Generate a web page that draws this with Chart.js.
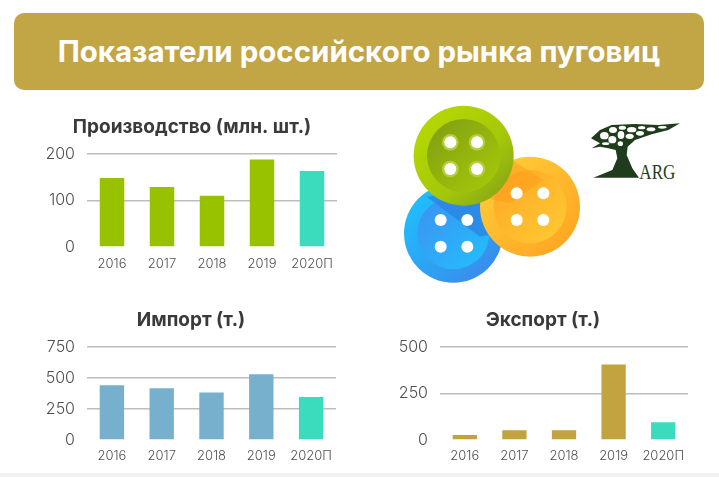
<!DOCTYPE html>
<html>
<head>
<meta charset="utf-8">
<script src="https://cdn.jsdelivr.net/npm/chart.js@4"></script>
<style>
  html, body { margin: 0; padding: 0; background: #fff; overflow: hidden; }
  body { position: relative; width: 719px; height: 477px; font-family: Inter, sans-serif; }
  #banner { position: absolute; left: 14px; top: 13px; width: 690px; height: 77px; background: #c2a544; border-radius: 10px;
    color: #fff; font-weight: 700; font-size: 29.5px; line-height: 77px; text-align: center; white-space: nowrap; }
  #footer { position: absolute; left: 0; top: 473px; width: 719px; height: 4px; background: #f1f1f1; }
  #art { position: absolute; left: 380px; top: 90px; }
  .box { position: absolute; }
</style>
</head>
<body>
<div id="banner">Показатели российского рынка пуговиц</div>

<svg id="art" width="320" height="200" viewBox="0 0 960 600">
  <defs>
    <linearGradient id="gGreen" x1="0" y1="0" x2="1" y2="1">
      <stop offset="0" stop-color="#b9dc00"/><stop offset=".6" stop-color="#a4c70a"/><stop offset="1" stop-color="#7e9c18"/>
    </linearGradient>
    <linearGradient id="gGreenIn" x1="0" y1="0" x2="1" y2="1">
      <stop offset="0" stop-color="#7f9c14"/><stop offset="1" stop-color="#a8cb08"/>
    </linearGradient>
    <linearGradient id="gOrange" x1="0" y1="0" x2="1" y2="1">
      <stop offset="0" stop-color="#ffd23c"/><stop offset="1" stop-color="#ffa01f"/>
    </linearGradient>
    <linearGradient id="gOrangeIn" x1="0" y1="0" x2="1" y2="1">
      <stop offset="0" stop-color="#ffa625"/><stop offset="1" stop-color="#ffcb33"/>
    </linearGradient>
    <linearGradient id="gBlue" x1="0" y1="0" x2="1" y2="1">
      <stop offset="0" stop-color="#1cc6ff"/><stop offset="1" stop-color="#3d84e8"/>
    </linearGradient>
    <linearGradient id="gBlueIn" x1="0" y1="0" x2="1" y2="1">
      <stop offset="0" stop-color="#3d90f2"/><stop offset="1" stop-color="#22c0fc"/>
    </linearGradient>
    <clipPath id="clipBlue"><circle cx="220" cy="430" r="148"/></clipPath>
    <clipPath id="clipOrange"><circle cx="450" cy="350" r="150"/></clipPath>
  </defs>

  <circle cx="220" cy="430" r="148" fill="url(#gBlue)"/>
  <circle cx="220" cy="430" r="108" fill="url(#gBlueIn)"/>
  <path d="M140 320 L300 300 L400 420 L300 440 Z" fill="#2b82e2" opacity=".75" clip-path="url(#clipBlue)"/>
  <g fill="#fff">
    <circle cx="182" cy="390" r="18"/><circle cx="262" cy="390" r="18"/>
    <circle cx="182" cy="470" r="18"/><circle cx="262" cy="470" r="18"/>
  </g>

  <circle cx="450" cy="350" r="150" fill="url(#gOrange)"/>
  <circle cx="450" cy="350" r="110" fill="url(#gOrangeIn)"/>
  <path d="M380 200 L300 320 L390 340 L490 270 Z" fill="#ff9d1c" opacity=".55" clip-path="url(#clipOrange)"/>
  <g fill="#fff">
    <circle cx="410" cy="310" r="18"/><circle cx="490" cy="310" r="18"/>
    <circle cx="410" cy="390" r="18"/><circle cx="490" cy="390" r="18"/>
  </g>

  <circle cx="251" cy="197" r="150" fill="url(#gGreen)"/>
  <circle cx="251" cy="197" r="110" fill="url(#gGreenIn)"/>
  <g fill="#b5cf3c">
    <circle cx="211" cy="157" r="25"/><circle cx="291" cy="157" r="25"/>
    <circle cx="211" cy="237" r="25"/><circle cx="291" cy="237" r="25"/>
  </g>
  <g fill="#fff">
    <circle cx="211" cy="157" r="18"/><circle cx="291" cy="157" r="18"/>
    <circle cx="211" cy="237" r="18"/><circle cx="291" cy="237" r="18"/>
  </g>

  <g transform="translate(615 75)">
    <path d="M18 70 L45 45 L80 30 L150 27 L220 30 L285 25 L250 45 L200 58 L150 75 L128 95 L125 120 L142 160 L162 188
             L25 188 L82 165 L97 130 L92 105 L70 100 L45 95 L20 100 L45 85 Z" fill="#1f3d1c"/>
    <g fill="#fff">
      <ellipse cx="58" cy="62" rx="13" ry="11"/><ellipse cx="84" cy="45" rx="12" ry="9"/>
      <ellipse cx="82" cy="74" rx="12" ry="11"/><ellipse cx="108" cy="60" rx="10" ry="12"/>
      <ellipse cx="112" cy="38" rx="11" ry="6"/><ellipse cx="140" cy="44" rx="14" ry="8"/>
      <ellipse cx="134" cy="64" rx="12" ry="8"/><ellipse cx="165" cy="55" rx="12" ry="7"/>
      <ellipse cx="170" cy="38" rx="11" ry="5"/><ellipse cx="198" cy="43" rx="13" ry="6"/>
      <ellipse cx="232" cy="37" rx="13" ry="4"/><ellipse cx="106" cy="86" rx="8" ry="7"/>
      <ellipse cx="62" cy="86" rx="11" ry="4"/>
    </g>
  </g>
  <text x="778" y="267" font-family="Liberation Serif" font-size="60" fill="#1f3d1c" textLength="108" lengthAdjust="spacingAndGlyphs">ARG</text>
</svg>

<div class="box" style="left:0;top:111px;width:384px;height:180px"><canvas id="prodChart"></canvas></div>
<div class="box" style="left:0;top:304px;width:382px;height:167px"><canvas id="importChart"></canvas></div>
<div class="box" style="left:370px;top:304px;width:346px;height:167px"><canvas id="exportChart"></canvas></div>
<div id="footer"></div>

<script>
const years = ["2016", "2017", "2018", "2019", "2020П"];

const prodValues = [148, 129, 110, 188, 163];
const importValues = [441, 417, 382, 530, 347];
const exportValues = [27, 52, 52, 405, 95];

const prodTicks = [0, 100, 200];
const importTicks = [0, 250, 500, 750];
const exportTicks = [0, 250, 500];

const forecastColor = "#3bdcbe";

function barColors(color) {
  return years.map((y, i) => (i === years.length - 1 ? forecastColor : color));
}

// side padding keeps the title centred where the reference has it
function makeChart(id, title, values, ticks, color, sides, yWidth, xHeight, xPad, titlePad) {
  new Chart(document.getElementById(id).getContext("2d"), {
    type: "bar",
    data: {
      labels: years,
      datasets: [{
        data: values,
        backgroundColor: barColors(color),
        categoryPercentage: 1,
        barPercentage: 0.49
      }]
    },
    options: {
      responsive: true,
      maintainAspectRatio: false,
      animation: false,
      layout: { padding: { right: sides, left: sides, bottom: 0, top: 0 } },
      plugins: {
        legend: { display: false },
        tooltip: { enabled: false },
        title: {
          display: true,
          text: title,
          color: "#3a3a3a",
          font: { family: "Inter", size: 19, weight: "700" },
          padding: titlePad
        }
      },
      scales: {
        y: {
          min: 0,
          max: ticks[ticks.length - 1],
          afterBuildTicks: (axis) => { axis.ticks = ticks.map((v) => ({ value: v })); },
          afterFit: (axis) => { axis.width = yWidth; },
          border: { display: false },
          grid: {
            drawTicks: false,
            lineWidth: 1.5,
            color: (ctx) => (ctx.tick.value === 0 ? "rgba(0,0,0,0)" : "#bdbdbd")
          },
          ticks: { color: "#505050", padding: 12, font: { family: "Inter", size: 16, weight: "300" } }
        },
        x: {
          afterFit: (axis) => { axis.height = xHeight; },
          border: { display: false },
          grid: { display: false, drawTicks: false },
          ticks: { color: "#505050", padding: xPad, maxRotation: 0, font: { family: "Inter", size: 13, weight: "300" } }
        }
      }
    }
  });
}

makeChart("prodChart", "Производство (млн. шт.)", prodValues, prodTicks, "#98c200", 47, 40, 44, 9, { top: 5, bottom: 15 });
makeChart("importChart", "Импорт (т.)", importValues, importTicks, "#76b0cc", 46, 41, 31, 8, { top: 5, bottom: 15 });
makeChart("exportChart", "Экспорт (т.)", exportValues, exportTicks, "#c2a33f", 28, 42, 31, 8, { top: 5, bottom: 15 });
</script>
</body>
</html>
